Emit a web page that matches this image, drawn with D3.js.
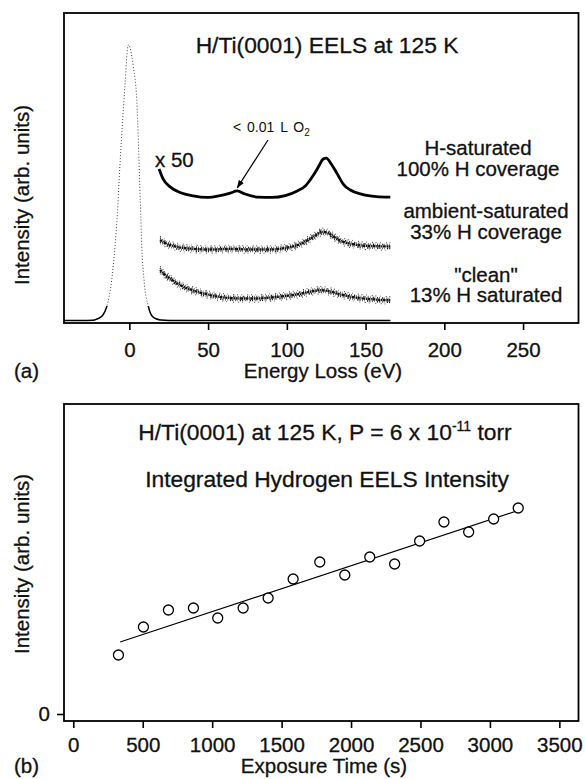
<!DOCTYPE html>
<html lang="en">
<head>
<meta charset="utf-8">
<title>H/Ti(0001) EELS</title>
<script src="https://d3js.org/d3.v7.min.js"></script>
<style>
    body { margin: 0; background: #fff; }
    svg { display: block; font-family: "Liberation Sans", Arial, Helvetica, sans-serif; }
    .frame { fill: none; stroke: #000; stroke-width: 1.8; }
    .axis .domain { display: none; }
    .axis .tick line { stroke: #000; stroke-width: 1.6; }
    .axis .tick text { font-size: 20.5px; fill: #111; stroke: #111; stroke-width: 0.3; font-family: "Liberation Sans", Arial, sans-serif; }
    .label { font-size: 20.5px; fill: #111; stroke: #111; stroke-width: 0.3; }
    .title { font-size: 22.8px; fill: #111; stroke: #111; stroke-width: 0.3; }
    .note { font-size: 14px; fill: #111; }
</style>
</head>
<body>
<div id="chart"></div>
<script>
// ---- panel (a): EELS spectra, [energy loss (eV), intensity (arb.)]
const elasticPeak = [
    [-41.5, 0.8], [-30, 0.8], [-23, 0.9], [-20, 1.4], [-17, 2.4], [-14.4, 5.2], [-11.2, 13.9],
    [-9.1, 24.7], [-7.6, 35.5], [-6.5, 46.1], [-4.8, 61.2], [-2.7, 77.3], [-1.0, 89.1],
    [-0.4, 89.8], [0.5, 88.6], [2.5, 82.7], [4.7, 71.9], [5.7, 59.0], [6.5, 46.0],
    [7.2, 35.6], [7.9, 24.6], [9.3, 13.9], [12.1, 5.3], [14.5, 2.2], [17.4, 1.3],
    [20, 1.0], [30, 0.8], [165.7, 0.8]
];

const hSaturated = [
    [18.9, 49.7], [21.4, 46.5], [25.9, 43.9], [32.2, 42.1], [40.5, 41.0], [49.4, 40.5],
    [57.6, 41.1], [64.0, 41.9], [68.5, 42.6], [73.5, 41.6], [81.8, 40.6], [90.7, 40.5],
    [99.0, 41.1], [106.6, 42.6], [111.7, 44.2], [116.1, 47.1], [120.0, 50.3], [123.1, 52.9],
    [125.0, 53.2], [128.2, 51.3], [132.0, 48.1], [135.8, 44.8], [140.3, 42.9], [147.9, 41.5],
    [156.8, 40.8], [165.7, 40.6]
];

const ambientSaturated = [
    [19.5, 26.8], [22.7, 25.8], [29.0, 24.7], [38.6, 24.0], [51.3, 23.7], [64.0, 23.9],
    [76.7, 23.7], [89.4, 23.7], [99.0, 24.2], [107.3, 25.2], [113.6, 26.8], [118.7, 28.4],
    [122.5, 29.4], [126.3, 29.0], [130.1, 27.7], [135.2, 26.3], [143.4, 25.3], [154.3, 24.8],
    [165.7, 24.7]
];

const cleanSurface = [
    [19.5, 17.1], [22.7, 15.5], [27.1, 13.9], [33.5, 11.9], [41.8, 10.3], [51.3, 9.0],
    [60.8, 8.2], [70.4, 7.9], [79.9, 7.9], [89.4, 8.2], [99.0, 8.7], [108.5, 9.4],
    [116.1, 10.2], [121.2, 10.6], [126.3, 10.3], [132.6, 9.4], [141.5, 8.4], [152.9, 7.7],
    [165.7, 7.3]
];

const energyTicks = [0, 50, 100, 150, 200, 250];
const traceLabels = [
    ["H-saturated", "100% H coverage"],
    ["ambient-saturated", "33% H coverage"],
    ["\"clean\"", "13% H saturated"]
];

// ---- panel (b): integrated hydrogen EELS intensity vs exposure
const exposureTime = [325, 505, 685, 865, 1040, 1223, 1403, 1583, 1775, 1955, 2135, 2314, 2494, 2669, 2847, 3027, 3204];
const hIntensity = [0.59, 0.87, 1.04, 1.06, 0.96, 1.06, 1.16, 1.35, 1.52, 1.39, 1.57, 1.50, 1.73, 1.92, 1.82, 1.95, 2.06];
const fitLine = [[337, 0.72], [3214, 2.04]];
const timeTicks = [0, 500, 1000, 1500, 2000, 2500, 3000, 3500];
const intensityTicks = [0];

let w = 585;
let h = 779;

let svg = d3.select("#chart")
            .append("svg")
            .attr("width", w)
            .attr("height", h);

// arrow head for the O2 note
let defs = svg.append("defs");
defs.append("marker")
    .attr("id", "arrow")
    .attr("viewBox", "0 0 10 10")
    .attr("refX", 9)
    .attr("refY", 5)
    .attr("markerWidth", 7)
    .attr("markerHeight", 7)
    .attr("orient", "auto")
    .append("path")
    .attr("d", "M0,1.5 L10,5 L0,8.5 Z")
    .attr("fill", "#000");

// the foot of the elastic peak is drawn solid
defs.append("clipPath")
    .attr("id", "footClip")
    .append("rect")
    .attr("x", 64).attr("y", 306).attr("width", 515).attr("height", 18);

//================ panel (a)
let boxA = {left: 64, right: 578.5, top: 13, bottom: 323};

let xA = d3.scaleLinear()
            .domain([-41.5, 285.2])
            .range([boxA.left, boxA.right]);

let yA = d3.scaleLinear()
            .domain([0, 100])
            .range([boxA.bottom, boxA.top]);

let lineA = d3.line()
                .x(d => xA(d[0]))
                .y(d => yA(d[1]))
                .curve(d3.curveMonotoneX);

svg.append("path")
    .attr("d", lineA(elasticPeak))
    .attr("fill", "none")
    .attr("stroke", "#444")
    .attr("stroke-width", 1)
    .attr("stroke-dasharray", "1 2");

svg.append("path")
    .attr("d", lineA(elasticPeak))
    .attr("clip-path", "url(#footClip)")
    .attr("fill", "none")
    .attr("stroke", "#000")
    .attr("stroke-width", 1.5);

// H-saturated trace (x 50), low noise
svg.append("path")
    .attr("d", lineA(hSaturated))
    .attr("fill", "none")
    .attr("stroke", "#000")
    .attr("stroke-width", 2.8);

// noisy traces drawn as a speckled band
const speckle = [
    {dy: 0, width: 2.4, dash: "2.3 0.6 1.1 0.5 3.1 0.7 1.6 0.4", color: "#111"},
    {dy: -1.9, width: 1.6, dash: "0.9 1.4 0.6 2.1 1.2 0.8 0.5 1.9", color: "#1a1a1a"},
    {dy: 2, width: 1.6, dash: "1.1 1.7 0.7 1.2 0.5 2.4 1.3 1", color: "#1a1a1a"},
    {dy: -3.7, width: 1.1, dash: "0.8 3.7 0.6 5.2 0.9 2.8", color: "#333"},
    {dy: 3.8, width: 1.1, dash: "0.7 4.6 0.9 3.1 0.6 6.1", color: "#333"}
];

[ambientSaturated, cleanSurface].forEach(trace => {
    svg.append("g")
        .selectAll("path")
        .data(speckle)
        .enter()
        .append("path")
        .attr("d", lineA(trace))
        .attr("transform", s => `translate(0, ${s.dy})`)
        .attr("fill", "none")
        .attr("stroke", s => s.color)
        .attr("stroke-width", s => s.width)
        .attr("stroke-dasharray", s => s.dash);
});

svg.append("rect")
    .attr("class", "frame")
    .attr("x", boxA.left)
    .attr("y", boxA.top)
    .attr("width", boxA.right - boxA.left)
    .attr("height", boxA.bottom - boxA.top);

svg.append("g")
    .attr("class", "axis")
    .attr("transform", `translate(0, ${boxA.bottom})`)
    .call(d3.axisBottom(xA).tickValues(energyTicks).tickSize(7).tickPadding(12));

svg.append("text")
    .attr("class", "title")
    .attr("x", 327)
    .attr("y", 53)
    .attr("text-anchor", "middle")
    .text("H/Ti(0001) EELS at 125 K");

svg.append("text")
    .attr("class", "label")
    .attr("x", 155)
    .attr("y", 167)
    .text("x 50");

// O2 note with arrow
let note = svg.append("text")
    .attr("class", "note")
    .attr("x", 233)
    .attr("y", 132)
    .attr("word-spacing", "2px");
note.append("tspan").text("< 0.01 L O");
note.append("tspan").attr("dy", 4).attr("font-size", "10px").text("2");

svg.append("line")
    .attr("x1", 268)
    .attr("y1", 140)
    .attr("x2", xA(68.5))
    .attr("y2", yA(43.6))
    .attr("stroke", "#000")
    .attr("stroke-width", 1.2)
    .attr("marker-end", "url(#arrow)");

// trace labels
let labelPos = [{x: 478, y: 155}, {x: 486, y: 218}, {x: 486, y: 281.5}];
traceLabels.forEach((lines, i) => {
    lines.forEach((t, j) => {
        svg.append("text")
            .attr("class", "label")
            .attr("x", labelPos[i].x)
            .attr("y", labelPos[i].y + j * 20.7)
            .attr("text-anchor", "middle")
            .text(t);
    });
});

svg.append("text")
    .attr("class", "label")
    .attr("transform", "translate(29, 195) rotate(-90)")
    .attr("text-anchor", "middle")
    .text("Intensity (arb. units)");

svg.append("text")
    .attr("class", "label")
    .attr("x", 323)
    .attr("y", 378)
    .attr("text-anchor", "middle")
    .text("Energy Loss (eV)");

svg.append("text")
    .attr("class", "label")
    .attr("x", 14)
    .attr("y", 378)
    .text("(a)");

//================ panel (b)
let boxB = {left: 64, right: 578.5, top: 404, bottom: 721};

let xB = d3.scaleLinear()
            .domain([-67, 3638])
            .range([boxB.left, boxB.right]);

let yB = d3.scaleLinear()
            .domain([-0.07, 3.10])
            .range([boxB.bottom, boxB.top]);

svg.append("rect")
    .attr("class", "frame")
    .attr("x", boxB.left)
    .attr("y", boxB.top)
    .attr("width", boxB.right - boxB.left)
    .attr("height", boxB.bottom - boxB.top);

svg.append("g")
    .attr("class", "axis")
    .attr("transform", `translate(0, ${boxB.bottom})`)
    .call(d3.axisBottom(xB).tickValues(timeTicks).tickSize(7).tickPadding(9).tickFormat(d3.format("d")));

svg.append("g")
    .attr("class", "axis")
    .attr("transform", `translate(${boxB.left}, 0)`)
    .call(d3.axisLeft(yB).tickValues(intensityTicks).tickSize(7).tickPadding(7).tickFormat(d3.format("d")));

svg.append("path")
    .attr("d", d3.line().x(d => xB(d[0])).y(d => yB(d[1]))(fitLine))
    .attr("fill", "none")
    .attr("stroke", "#000")
    .attr("stroke-width", 1.2);

svg.append("g")
    .selectAll("circle")
    .data(exposureTime)
    .enter()
    .append("circle")
    .attr("cx", d => xB(d))
    .attr("cy", (d, i) => yB(hIntensity[i]))
    .attr("r", 5)
    .attr("fill", "#fff")
    .attr("stroke", "#000")
    .attr("stroke-width", 1.3);

let titleB = svg.append("text")
    .attr("class", "title")
    .attr("x", 325)
    .attr("y", 440)
    .attr("text-anchor", "middle");
titleB.append("tspan").text("H/Ti(0001) at 125 K, P = 6 x 10");
titleB.append("tspan").attr("dy", -9).attr("font-size", "14px").text("-11");
titleB.append("tspan").attr("dy", 9).text(" torr");

svg.append("text")
    .attr("class", "title")
    .attr("x", 327)
    .attr("y", 487)
    .attr("text-anchor", "middle")
    .text("Integrated Hydrogen EELS Intensity");

svg.append("text")
    .attr("class", "label")
    .attr("transform", "translate(29, 564) rotate(-90)")
    .attr("text-anchor", "middle")
    .text("Intensity (arb. units)");

svg.append("text")
    .attr("class", "label")
    .attr("x", 324)
    .attr("y", 773)
    .attr("text-anchor", "middle")
    .text("Exposure Time (s)");

svg.append("text")
    .attr("class", "label")
    .attr("x", 14)
    .attr("y", 773)
    .text("(b)");
</script>
</body>
</html>
